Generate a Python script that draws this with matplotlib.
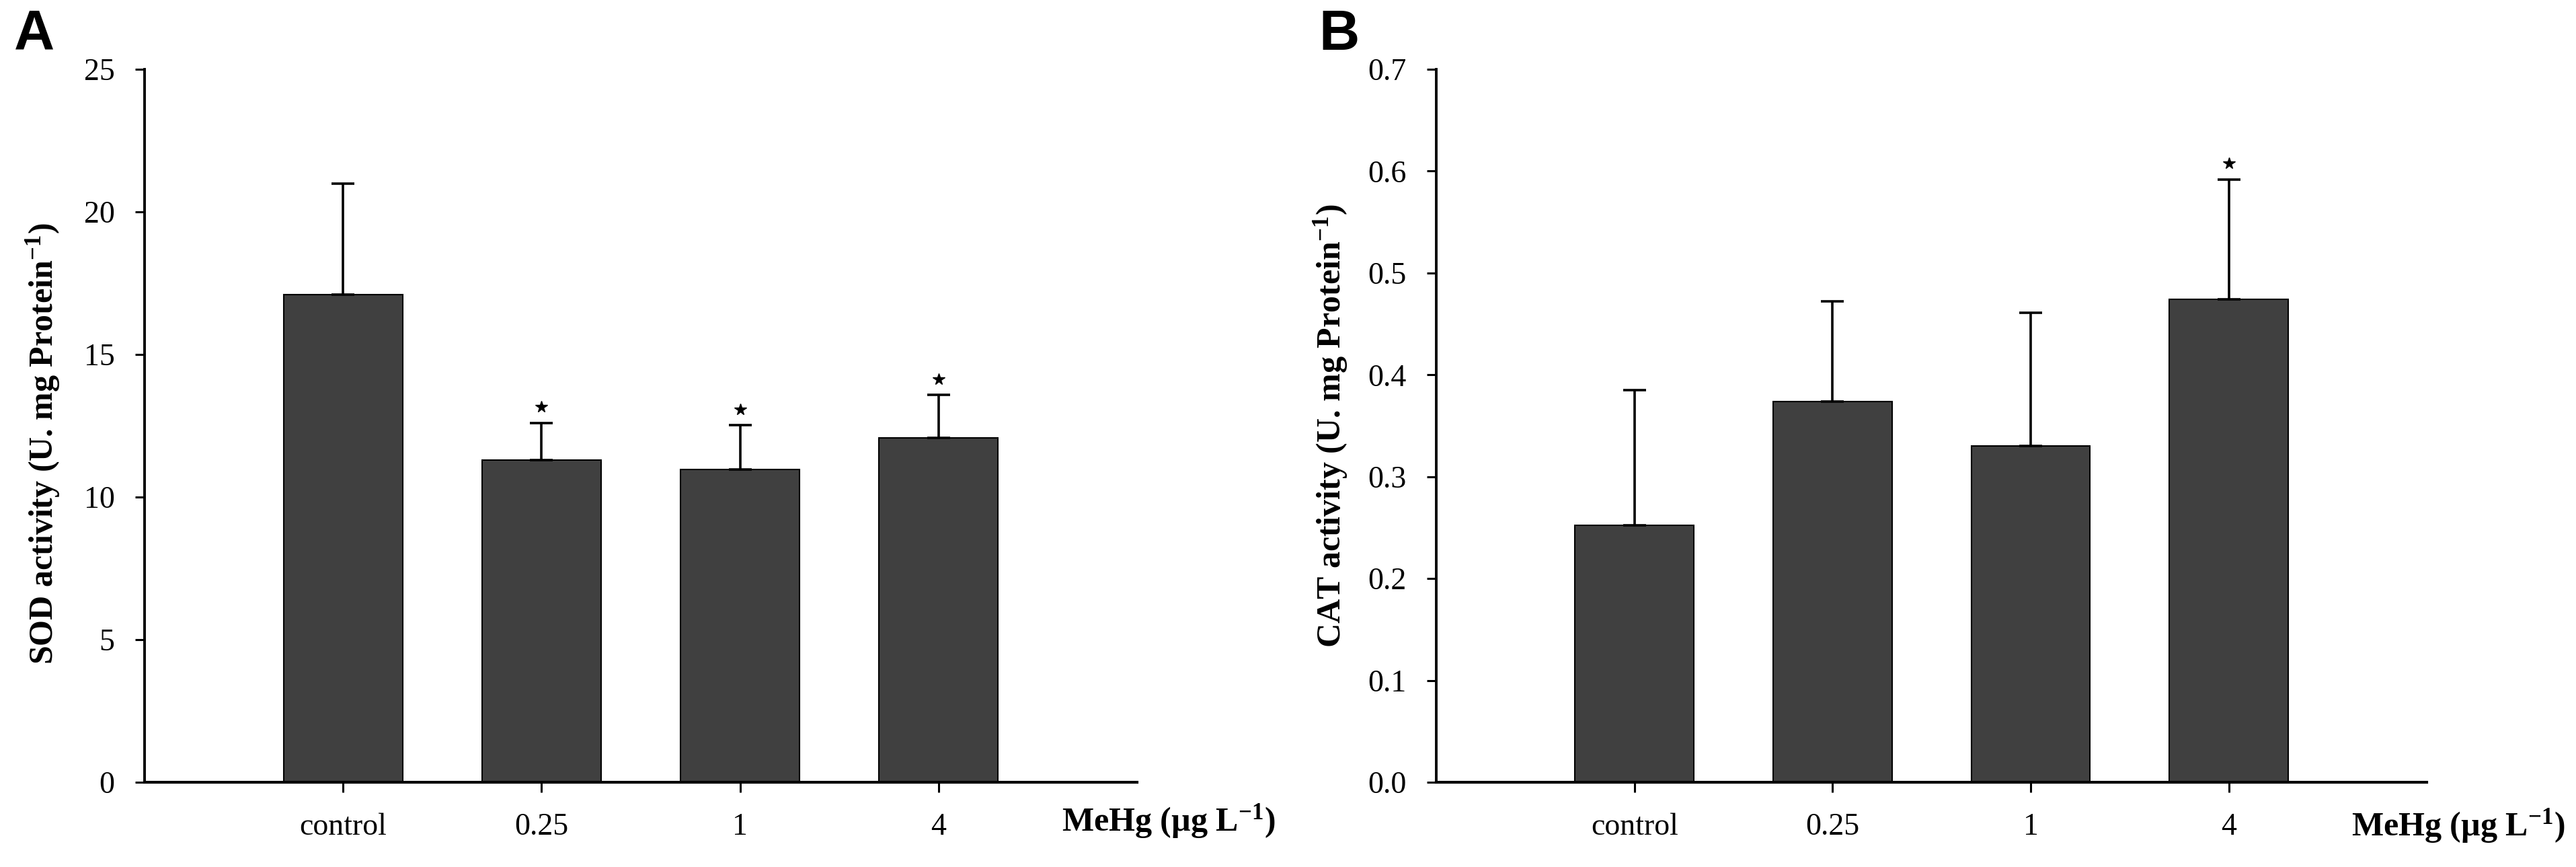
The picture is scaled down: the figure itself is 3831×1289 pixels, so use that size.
import matplotlib
matplotlib.use("Agg")
import matplotlib.pyplot as plt
import matplotlib.transforms as mtransforms
import numpy as np

# Treatment groups (MeHg concentration)
groups = ["control", "0.25", "1", "4"]

# Panel A: SOD activity, mean and upper error
sod_mean = [17.09, 11.30, 10.97, 12.08]
sod_err = [3.90, 1.30, 1.55, 1.50]
sod_signif = [False, True, True, True]
sod_ticks = [0, 5, 10, 15, 20, 25]

# Panel B: CAT activity, mean and upper error
cat_mean = [0.252, 0.374, 0.330, 0.474]
cat_err = [0.133, 0.098, 0.131, 0.118]
cat_signif = [False, False, False, True]
cat_ticks = [0.0, 0.1, 0.2, 0.3, 0.4, 0.5, 0.6, 0.7]

plt.rcParams["font.family"] = ["Liberation Serif", "DejaVu Serif"]
plt.rcParams["mathtext.fontset"] = "custom"
plt.rcParams["mathtext.rm"] = "Liberation Serif"
plt.rcParams["mathtext.bf"] = "Liberation Serif:bold"
plt.rcParams["mathtext.it"] = "Liberation Serif:italic"

BAR_COLOR = "#404040"
TICK_SIZE = 33
LABEL_SIZE = 36


def draw_panel(fig, rect, means, errs, signif, yticks, ytick_fmt,
               ylabel, ylabel_pos, unit_y, letter, letter_x):
    ax = fig.add_axes(rect)
    x = np.arange(len(groups))

    ax.bar(x, means, width=0.6, color=BAR_COLOR,
           edgecolor="black", linewidth=1.5, zorder=2)

    lower = np.zeros(len(means))
    ax.errorbar(x, means, yerr=[lower, errs], fmt="none",
                ecolor="black", elinewidth=2.6, capsize=12,
                capthick=2.6, zorder=3)

    # Significance stars sit a fixed distance above the caps
    star_trans = mtransforms.offset_copy(ax.transData, fig=fig,
                                         y=17, units="points")
    for xi, m, e, s in zip(x, means, errs, signif):
        if s:
            ax.plot(xi, m + e, marker="*", markersize=13, color="black",
                    transform=star_trans, clip_on=False, zorder=4)

    ax.set_xlim(-1, 4)
    ax.set_ylim(yticks[0], yticks[-1])
    ax.set_xticks(x)
    ax.set_xticklabels(groups)
    ax.set_yticks(yticks)
    ax.set_yticklabels([ytick_fmt.format(t) for t in yticks])

    for side in ("top", "right"):
        ax.spines[side].set_visible(False)
    ax.spines["left"].set_linewidth(2.8)
    ax.spines["bottom"].set_linewidth(3.0)

    ax.tick_params(axis="x", length=11, width=2.2, pad=22,
                   labelsize=TICK_SIZE)
    ax.tick_params(axis="y", length=10, width=2.2, pad=22,
                   labelsize=TICK_SIZE)

    # label coords give the baseline side of the rotated label
    ax.set_ylabel(ylabel, fontsize=LABEL_SIZE, fontweight="bold")
    ax.yaxis.set_label_coords(*ylabel_pos)

    ax.text(0.924, unit_y, r"MeHg (µg L$^{\mathbf{-1}}$)",
            transform=ax.transAxes, ha="left", va="baseline",
            fontsize=LABEL_SIZE, fontweight="bold")

    fig.text(letter_x, 0.99, letter, ha="left", va="top",
             fontsize=60, fontweight="bold",
             family=["Liberation Sans", "DejaVu Sans"])
    return ax


fig = plt.figure(figsize=(38.31, 12.89), dpi=100)

draw_panel(fig, [0.0561, 0.0978, 0.3853, 0.8223],
           sod_mean, sod_err, sod_signif, sod_ticks, "{:d}",
           r"SOD activity (U. mg Protein$^{\mathbf{-1}}$)",
           (-0.083, 0.475), -0.068, "A", 0.0055)

draw_panel(fig, [0.5576, 0.0978, 0.3845, 0.8223],
           cat_mean, cat_err, cat_signif, cat_ticks, "{:.1f}",
           r"CAT activity (U. mg Protein$^{\mathbf{-1}}$)",
           (-0.0876, 0.50), -0.075, "B", 0.512)

fig.savefig("out.png", dpi=100, facecolor="white")
plt.close(fig)
